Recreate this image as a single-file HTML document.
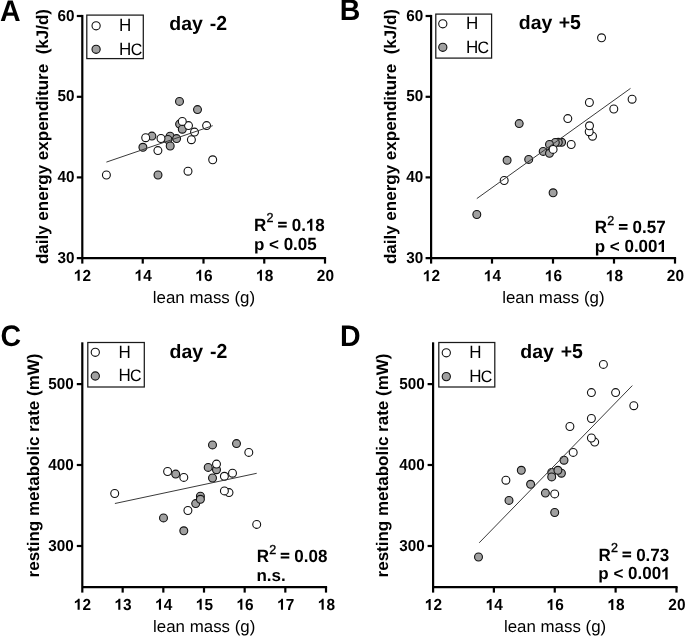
<!DOCTYPE html>
<html><head><meta charset="utf-8"><style>
html,body{margin:0;padding:0;background:#fff;}
svg{display:block;font-family:"Liberation Sans", sans-serif;will-change:transform;font-kerning:none;text-rendering:geometricPrecision;}
</style></head><body>
<svg width="685" height="636" viewBox="0 0 685 636">
<rect width="685" height="636" fill="#fff"/>
<line x1="82.30" y1="14.90" x2="82.30" y2="263.60" stroke="#000" stroke-width="2.2" stroke-linecap="butt"/>
<line x1="76.80" y1="258.10" x2="326.10" y2="258.10" stroke="#000" stroke-width="2.2" stroke-linecap="butt"/>
<line x1="142.75" y1="258.10" x2="142.75" y2="263.60" stroke="#000" stroke-width="2.2" stroke-linecap="butt"/>
<line x1="203.50" y1="258.10" x2="203.50" y2="263.60" stroke="#000" stroke-width="2.2" stroke-linecap="butt"/>
<line x1="264.25" y1="258.10" x2="264.25" y2="263.60" stroke="#000" stroke-width="2.2" stroke-linecap="butt"/>
<line x1="325.00" y1="258.10" x2="325.00" y2="263.60" stroke="#000" stroke-width="2.2" stroke-linecap="butt"/>
<line x1="76.80" y1="16.00" x2="82.30" y2="16.00" stroke="#000" stroke-width="2.2" stroke-linecap="butt"/>
<line x1="76.80" y1="96.80" x2="82.30" y2="96.80" stroke="#000" stroke-width="2.2" stroke-linecap="butt"/>
<line x1="76.80" y1="177.40" x2="82.30" y2="177.40" stroke="#000" stroke-width="2.2" stroke-linecap="butt"/>
<path d="M 79.70 280.80 L 77.59 280.80 L 77.59 272.84 C 77.14 273.28 76.09 274.11 74.87 274.44 L 74.87 272.52 C 75.72 272.23 76.62 271.63 77.22 271.02 C 77.60 270.65 77.86 270.20 77.98 269.78 L 79.70 269.78 Z" fill="#000"/>
<text transform="translate(82.40,280.80) scale(1,1.04)" font-size="15.4" font-weight="bold" fill="#000" xml:space="preserve">2</text>
<path d="M 140.45 280.80 L 138.34 280.80 L 138.34 272.84 C 137.89 273.28 136.84 274.11 135.62 274.44 L 135.62 272.52 C 136.47 272.23 137.37 271.63 137.97 271.02 C 138.35 270.65 138.61 270.20 138.73 269.78 L 140.45 269.78 Z" fill="#000"/>
<text transform="translate(143.15,280.80) scale(1,1.04)" font-size="15.4" font-weight="bold" fill="#000" xml:space="preserve">4</text>
<path d="M 201.20 280.80 L 199.09 280.80 L 199.09 272.84 C 198.64 273.28 197.59 274.11 196.37 274.44 L 196.37 272.52 C 197.22 272.23 198.12 271.63 198.72 271.02 C 199.10 270.65 199.36 270.20 199.48 269.78 L 201.20 269.78 Z" fill="#000"/>
<text transform="translate(203.90,280.80) scale(1,1.04)" font-size="15.4" font-weight="bold" fill="#000" xml:space="preserve">6</text>
<path d="M 261.95 280.80 L 259.84 280.80 L 259.84 272.84 C 259.39 273.28 258.34 274.11 257.12 274.44 L 257.12 272.52 C 257.97 272.23 258.87 271.63 259.47 271.02 C 259.85 270.65 260.11 270.20 260.23 269.78 L 261.95 269.78 Z" fill="#000"/>
<text transform="translate(264.65,280.80) scale(1,1.04)" font-size="15.4" font-weight="bold" fill="#000" xml:space="preserve">8</text>
<text transform="translate(316.84,280.80) scale(1,1.04)" font-size="15.4" font-weight="bold" fill="#000" xml:space="preserve">20</text>
<text transform="translate(57.51,20.60) scale(1,1.04)" font-size="15.3" font-weight="bold" fill="#000" xml:space="preserve">60</text>
<text transform="translate(57.51,101.40) scale(1,1.04)" font-size="15.3" font-weight="bold" fill="#000" xml:space="preserve">50</text>
<text transform="translate(57.51,182.00) scale(1,1.04)" font-size="15.3" font-weight="bold" fill="#000" xml:space="preserve">40</text>
<text transform="translate(57.51,262.60) scale(1,1.04)" font-size="15.3" font-weight="bold" fill="#000" xml:space="preserve">30</text>
<line x1="431.10" y1="14.90" x2="431.10" y2="263.60" stroke="#000" stroke-width="2.2" stroke-linecap="butt"/>
<line x1="425.60" y1="258.10" x2="676.10" y2="258.10" stroke="#000" stroke-width="2.2" stroke-linecap="butt"/>
<line x1="492.00" y1="258.10" x2="492.00" y2="263.60" stroke="#000" stroke-width="2.2" stroke-linecap="butt"/>
<line x1="553.00" y1="258.10" x2="553.00" y2="263.60" stroke="#000" stroke-width="2.2" stroke-linecap="butt"/>
<line x1="614.00" y1="258.10" x2="614.00" y2="263.60" stroke="#000" stroke-width="2.2" stroke-linecap="butt"/>
<line x1="675.00" y1="258.10" x2="675.00" y2="263.60" stroke="#000" stroke-width="2.2" stroke-linecap="butt"/>
<line x1="425.60" y1="16.00" x2="431.10" y2="16.00" stroke="#000" stroke-width="2.2" stroke-linecap="butt"/>
<line x1="425.60" y1="96.80" x2="431.10" y2="96.80" stroke="#000" stroke-width="2.2" stroke-linecap="butt"/>
<line x1="425.60" y1="177.40" x2="431.10" y2="177.40" stroke="#000" stroke-width="2.2" stroke-linecap="butt"/>
<path d="M 428.70 281.20 L 426.59 281.20 L 426.59 273.24 C 426.14 273.68 425.09 274.51 423.87 274.84 L 423.87 272.92 C 424.72 272.63 425.62 272.03 426.22 271.42 C 426.60 271.05 426.86 270.60 426.98 270.18 L 428.70 270.18 Z" fill="#000"/>
<text transform="translate(431.40,281.20) scale(1,1.04)" font-size="15.4" font-weight="bold" fill="#000" xml:space="preserve">2</text>
<path d="M 489.70 281.20 L 487.59 281.20 L 487.59 273.24 C 487.14 273.68 486.09 274.51 484.87 274.84 L 484.87 272.92 C 485.72 272.63 486.62 272.03 487.22 271.42 C 487.60 271.05 487.86 270.60 487.98 270.18 L 489.70 270.18 Z" fill="#000"/>
<text transform="translate(492.40,281.20) scale(1,1.04)" font-size="15.4" font-weight="bold" fill="#000" xml:space="preserve">4</text>
<path d="M 550.70 281.20 L 548.59 281.20 L 548.59 273.24 C 548.14 273.68 547.09 274.51 545.87 274.84 L 545.87 272.92 C 546.72 272.63 547.62 272.03 548.22 271.42 C 548.60 271.05 548.86 270.60 548.98 270.18 L 550.70 270.18 Z" fill="#000"/>
<text transform="translate(553.40,281.20) scale(1,1.04)" font-size="15.4" font-weight="bold" fill="#000" xml:space="preserve">6</text>
<path d="M 611.70 281.20 L 609.59 281.20 L 609.59 273.24 C 609.14 273.68 608.09 274.51 606.87 274.84 L 606.87 272.92 C 607.72 272.63 608.62 272.03 609.22 271.42 C 609.60 271.05 609.86 270.60 609.98 270.18 L 611.70 270.18 Z" fill="#000"/>
<text transform="translate(614.40,281.20) scale(1,1.04)" font-size="15.4" font-weight="bold" fill="#000" xml:space="preserve">8</text>
<text transform="translate(666.84,281.20) scale(1,1.04)" font-size="15.4" font-weight="bold" fill="#000" xml:space="preserve">20</text>
<text transform="translate(406.21,20.60) scale(1,1.04)" font-size="15.3" font-weight="bold" fill="#000" xml:space="preserve">60</text>
<text transform="translate(406.21,101.40) scale(1,1.04)" font-size="15.3" font-weight="bold" fill="#000" xml:space="preserve">50</text>
<text transform="translate(406.21,182.00) scale(1,1.04)" font-size="15.3" font-weight="bold" fill="#000" xml:space="preserve">40</text>
<text transform="translate(406.21,262.60) scale(1,1.04)" font-size="15.3" font-weight="bold" fill="#000" xml:space="preserve">30</text>
<line x1="82.30" y1="342.30" x2="82.30" y2="592.60" stroke="#000" stroke-width="2.2" stroke-linecap="butt"/>
<line x1="82.30" y1="587.10" x2="327.10" y2="587.10" stroke="#000" stroke-width="2.2" stroke-linecap="butt"/>
<line x1="122.67" y1="587.10" x2="122.67" y2="592.60" stroke="#000" stroke-width="2.2" stroke-linecap="butt"/>
<line x1="163.33" y1="587.10" x2="163.33" y2="592.60" stroke="#000" stroke-width="2.2" stroke-linecap="butt"/>
<line x1="204.00" y1="587.10" x2="204.00" y2="592.60" stroke="#000" stroke-width="2.2" stroke-linecap="butt"/>
<line x1="244.67" y1="587.10" x2="244.67" y2="592.60" stroke="#000" stroke-width="2.2" stroke-linecap="butt"/>
<line x1="285.33" y1="587.10" x2="285.33" y2="592.60" stroke="#000" stroke-width="2.2" stroke-linecap="butt"/>
<line x1="326.00" y1="587.10" x2="326.00" y2="592.60" stroke="#000" stroke-width="2.2" stroke-linecap="butt"/>
<line x1="76.80" y1="384.10" x2="82.30" y2="384.10" stroke="#000" stroke-width="2.2" stroke-linecap="butt"/>
<line x1="76.80" y1="465.00" x2="82.30" y2="465.00" stroke="#000" stroke-width="2.2" stroke-linecap="butt"/>
<line x1="76.80" y1="546.00" x2="82.30" y2="546.00" stroke="#000" stroke-width="2.2" stroke-linecap="butt"/>
<path d="M 79.70 609.70 L 77.59 609.70 L 77.59 601.74 C 77.14 602.18 76.09 603.01 74.87 603.34 L 74.87 601.42 C 75.72 601.13 76.62 600.53 77.22 599.92 C 77.60 599.55 77.86 599.10 77.98 598.68 L 79.70 598.68 Z" fill="#000"/>
<text transform="translate(82.40,609.70) scale(1,1.04)" font-size="15.4" font-weight="bold" fill="#000" xml:space="preserve">2</text>
<path d="M 120.37 609.70 L 118.25 609.70 L 118.25 601.74 C 117.81 602.18 116.76 603.01 115.54 603.34 L 115.54 601.42 C 116.38 601.13 117.28 600.53 117.89 599.92 C 118.26 599.55 118.52 599.10 118.65 598.68 L 120.37 598.68 Z" fill="#000"/>
<text transform="translate(123.07,609.70) scale(1,1.04)" font-size="15.4" font-weight="bold" fill="#000" xml:space="preserve">3</text>
<path d="M 161.03 609.70 L 158.92 609.70 L 158.92 601.74 C 158.48 602.18 157.42 603.01 156.21 603.34 L 156.21 601.42 C 157.05 601.13 157.95 600.53 158.55 599.92 C 158.93 599.55 159.19 599.10 159.31 598.68 L 161.03 598.68 Z" fill="#000"/>
<text transform="translate(163.73,609.70) scale(1,1.04)" font-size="15.4" font-weight="bold" fill="#000" xml:space="preserve">4</text>
<path d="M 201.70 609.70 L 199.59 609.70 L 199.59 601.74 C 199.14 602.18 198.09 603.01 196.87 603.34 L 196.87 601.42 C 197.72 601.13 198.62 600.53 199.22 599.92 C 199.60 599.55 199.86 599.10 199.98 598.68 L 201.70 598.68 Z" fill="#000"/>
<text transform="translate(204.40,609.70) scale(1,1.04)" font-size="15.4" font-weight="bold" fill="#000" xml:space="preserve">5</text>
<path d="M 242.37 609.70 L 240.25 609.70 L 240.25 601.74 C 239.81 602.18 238.76 603.01 237.54 603.34 L 237.54 601.42 C 238.38 601.13 239.28 600.53 239.89 599.92 C 240.26 599.55 240.52 599.10 240.65 598.68 L 242.37 598.68 Z" fill="#000"/>
<text transform="translate(245.07,609.70) scale(1,1.04)" font-size="15.4" font-weight="bold" fill="#000" xml:space="preserve">6</text>
<path d="M 283.03 609.70 L 280.92 609.70 L 280.92 601.74 C 280.48 602.18 279.42 603.01 278.21 603.34 L 278.21 601.42 C 279.05 601.13 279.95 600.53 280.55 599.92 C 280.93 599.55 281.19 599.10 281.31 598.68 L 283.03 598.68 Z" fill="#000"/>
<text transform="translate(285.73,609.70) scale(1,1.04)" font-size="15.4" font-weight="bold" fill="#000" xml:space="preserve">7</text>
<path d="M 323.70 609.70 L 321.59 609.70 L 321.59 601.74 C 321.14 602.18 320.09 603.01 318.87 603.34 L 318.87 601.42 C 319.72 601.13 320.62 600.53 321.22 599.92 C 321.60 599.55 321.86 599.10 321.98 598.68 L 323.70 598.68 Z" fill="#000"/>
<text transform="translate(326.40,609.70) scale(1,1.04)" font-size="15.4" font-weight="bold" fill="#000" xml:space="preserve">8</text>
<text transform="translate(48.30,388.70) scale(1,1.04)" font-size="15.3" font-weight="bold" fill="#000" xml:space="preserve">500</text>
<text transform="translate(48.30,469.60) scale(1,1.04)" font-size="15.3" font-weight="bold" fill="#000" xml:space="preserve">400</text>
<text transform="translate(48.30,550.60) scale(1,1.04)" font-size="15.3" font-weight="bold" fill="#000" xml:space="preserve">300</text>
<line x1="433.10" y1="342.30" x2="433.10" y2="592.60" stroke="#000" stroke-width="2.2" stroke-linecap="butt"/>
<line x1="433.10" y1="587.10" x2="677.60" y2="587.10" stroke="#000" stroke-width="2.2" stroke-linecap="butt"/>
<line x1="493.88" y1="587.10" x2="493.88" y2="592.60" stroke="#000" stroke-width="2.2" stroke-linecap="butt"/>
<line x1="554.75" y1="587.10" x2="554.75" y2="592.60" stroke="#000" stroke-width="2.2" stroke-linecap="butt"/>
<line x1="615.62" y1="587.10" x2="615.62" y2="592.60" stroke="#000" stroke-width="2.2" stroke-linecap="butt"/>
<line x1="676.50" y1="587.10" x2="676.50" y2="592.60" stroke="#000" stroke-width="2.2" stroke-linecap="butt"/>
<line x1="427.60" y1="384.10" x2="433.10" y2="384.10" stroke="#000" stroke-width="2.2" stroke-linecap="butt"/>
<line x1="427.60" y1="465.00" x2="433.10" y2="465.00" stroke="#000" stroke-width="2.2" stroke-linecap="butt"/>
<line x1="427.60" y1="546.00" x2="433.10" y2="546.00" stroke="#000" stroke-width="2.2" stroke-linecap="butt"/>
<path d="M 430.70 609.90 L 428.59 609.90 L 428.59 601.94 C 428.14 602.38 427.09 603.21 425.87 603.54 L 425.87 601.62 C 426.72 601.33 427.62 600.73 428.22 600.12 C 428.60 599.75 428.86 599.30 428.98 598.88 L 430.70 598.88 Z" fill="#000"/>
<text transform="translate(433.40,609.90) scale(1,1.04)" font-size="15.4" font-weight="bold" fill="#000" xml:space="preserve">2</text>
<path d="M 491.58 609.90 L 489.46 609.90 L 489.46 601.94 C 489.02 602.38 487.97 603.21 486.75 603.54 L 486.75 601.62 C 487.59 601.33 488.49 600.73 489.09 600.12 C 489.47 599.75 489.73 599.30 489.85 598.88 L 491.58 598.88 Z" fill="#000"/>
<text transform="translate(494.27,609.90) scale(1,1.04)" font-size="15.4" font-weight="bold" fill="#000" xml:space="preserve">4</text>
<path d="M 552.45 609.90 L 550.34 609.90 L 550.34 601.94 C 549.89 602.38 548.84 603.21 547.62 603.54 L 547.62 601.62 C 548.47 601.33 549.37 600.73 549.97 600.12 C 550.35 599.75 550.61 599.30 550.73 598.88 L 552.45 598.88 Z" fill="#000"/>
<text transform="translate(555.15,609.90) scale(1,1.04)" font-size="15.4" font-weight="bold" fill="#000" xml:space="preserve">6</text>
<path d="M 613.33 609.90 L 611.21 609.90 L 611.21 601.94 C 610.77 602.38 609.72 603.21 608.50 603.54 L 608.50 601.62 C 609.34 601.33 610.24 600.73 610.84 600.12 C 611.22 599.75 611.48 599.30 611.60 598.88 L 613.33 598.88 Z" fill="#000"/>
<text transform="translate(616.02,609.90) scale(1,1.04)" font-size="15.4" font-weight="bold" fill="#000" xml:space="preserve">8</text>
<text transform="translate(668.34,609.90) scale(1,1.04)" font-size="15.4" font-weight="bold" fill="#000" xml:space="preserve">20</text>
<text transform="translate(399.30,388.70) scale(1,1.04)" font-size="15.3" font-weight="bold" fill="#000" xml:space="preserve">500</text>
<text transform="translate(399.30,469.60) scale(1,1.04)" font-size="15.3" font-weight="bold" fill="#000" xml:space="preserve">400</text>
<text transform="translate(399.30,550.60) scale(1,1.04)" font-size="15.3" font-weight="bold" fill="#000" xml:space="preserve">300</text>
<text transform="translate(-0.01,20.70) scale(1,1.04)" font-size="28.5" font-weight="bold" fill="#000" xml:space="preserve">A</text>
<text transform="translate(339.69,20.40) scale(1,1.04)" font-size="28.5" font-weight="bold" fill="#000" xml:space="preserve">B</text>
<text transform="translate(0.53,345.80) scale(1,1.04)" font-size="28.5" font-weight="bold" fill="#000" xml:space="preserve">C</text>
<text transform="translate(340.09,346.10) scale(1,1.04)" font-size="28.5" font-weight="bold" fill="#000" xml:space="preserve">D</text>
<text transform="translate(169.30,29.80) scale(1,0.985)" font-size="19.5" font-weight="bold" fill="#000" xml:space="preserve">day</text>
<text transform="translate(209.74,29.80) scale(1,1.0)" font-size="19.5" font-weight="bold" fill="#000" xml:space="preserve">-</text>
<text transform="translate(216.24,29.80) scale(1,1.04)" font-size="19.5" font-weight="bold" fill="#000" xml:space="preserve">2</text>
<text transform="translate(518.80,29.40) scale(1,0.985)" font-size="19.5" font-weight="bold" fill="#000" xml:space="preserve">day</text>
<text transform="translate(558.71,29.40) scale(1,1.0)" font-size="19.5" font-weight="bold" fill="#000" xml:space="preserve">+</text>
<text transform="translate(570.10,29.40) scale(1,1.04)" font-size="19.5" font-weight="bold" fill="#000" xml:space="preserve">5</text>
<text transform="translate(169.50,357.60) scale(1,0.985)" font-size="19.5" font-weight="bold" fill="#000" xml:space="preserve">day</text>
<text transform="translate(209.94,357.60) scale(1,1.0)" font-size="19.5" font-weight="bold" fill="#000" xml:space="preserve">-</text>
<text transform="translate(216.44,357.60) scale(1,1.04)" font-size="19.5" font-weight="bold" fill="#000" xml:space="preserve">2</text>
<text transform="translate(520.30,357.90) scale(1,0.985)" font-size="19.5" font-weight="bold" fill="#000" xml:space="preserve">day</text>
<text transform="translate(560.71,357.90) scale(1,1.0)" font-size="19.5" font-weight="bold" fill="#000" xml:space="preserve">+</text>
<text transform="translate(572.10,357.90) scale(1,1.04)" font-size="19.5" font-weight="bold" fill="#000" xml:space="preserve">5</text>
<text transform="translate(47.60,264.10) rotate(-90) scale(1,0.985)" font-size="17" font-weight="bold" xml:space="preserve">daily energy expenditure  (kJ/d)</text>
<text transform="translate(396.40,264.10) rotate(-90) scale(1,0.985)" font-size="17" font-weight="bold" xml:space="preserve">daily energy expenditure  (kJ/d)</text>
<text transform="translate(39.10,577.42) rotate(-90) scale(1,0.985)" font-size="17" font-weight="bold" xml:space="preserve">resting metabolic rate (mW)</text>
<text transform="translate(388.20,577.42) rotate(-90) scale(1,0.985)" font-size="17" font-weight="bold" xml:space="preserve">resting metabolic rate (mW)</text>
<text transform="translate(152.82,302.80) scale(1,0.985)" font-size="16.9" font-weight="normal" fill="#000" xml:space="preserve">lean mass (g)</text>
<text transform="translate(502.22,303.30) scale(1,0.985)" font-size="16.9" font-weight="normal" fill="#000" xml:space="preserve">lean mass (g)</text>
<text transform="translate(153.07,632.20) scale(1,0.985)" font-size="16.9" font-weight="normal" fill="#000" xml:space="preserve">lean mass (g)</text>
<text transform="translate(503.92,632.20) scale(1,0.985)" font-size="16.9" font-weight="normal" fill="#000" xml:space="preserve">lean mass (g)</text>
<text transform="translate(254.06,230.80) scale(1,1.04)" font-size="17" font-weight="bold" fill="#000" xml:space="preserve">R</text>
<text transform="translate(266.57,222.20) scale(1,1.04)" font-size="12.5" font-weight="normal" fill="#000" stroke="#000" stroke-width="0.35" xml:space="preserve">2</text>
<rect x="278.10" y="221.80" width="8.60" height="2.05" fill="#000"/>
<rect x="278.10" y="225.45" width="8.60" height="2.05" fill="#000"/>
<text transform="translate(291.73,230.80) scale(1,1.04)" font-size="17" font-weight="bold" fill="#000" xml:space="preserve">0.</text>
<path d="M 312.38 230.80 L 310.05 230.80 L 310.05 222.01 C 309.56 222.50 308.40 223.41 307.05 223.78 L 307.05 221.66 C 307.98 221.34 308.98 220.67 309.64 220.01 C 310.06 219.59 310.35 219.10 310.48 218.63 L 312.38 218.63 Z" fill="#000"/>
<text transform="translate(315.36,230.80) scale(1,1.04)" font-size="17" font-weight="bold" fill="#000" xml:space="preserve">8</text>
<text transform="translate(253.88,249.70) scale(1,0.985)" font-size="17" font-weight="bold" fill="#000" xml:space="preserve">p &lt; </text>
<text transform="translate(283.64,249.70) scale(1,1.04)" font-size="17" font-weight="bold" fill="#000" xml:space="preserve">0.05</text>
<text transform="translate(594.86,233.00) scale(1,1.04)" font-size="17" font-weight="bold" fill="#000" xml:space="preserve">R</text>
<text transform="translate(607.37,224.80) scale(1,1.04)" font-size="12.5" font-weight="normal" fill="#000" stroke="#000" stroke-width="0.35" xml:space="preserve">2</text>
<rect x="618.90" y="224.00" width="8.60" height="2.05" fill="#000"/>
<rect x="618.90" y="227.65" width="8.60" height="2.05" fill="#000"/>
<text transform="translate(632.53,233.00) scale(1,1.04)" font-size="17" font-weight="bold" fill="#000" xml:space="preserve">0.57</text>
<text transform="translate(594.68,252.10) scale(1,0.985)" font-size="17" font-weight="bold" fill="#000" xml:space="preserve">p &lt; </text>
<text transform="translate(624.44,252.10) scale(1,1.04)" font-size="17" font-weight="bold" fill="#000" xml:space="preserve">0.00</text>
<path d="M 664.00 252.10 L 661.67 252.10 L 661.67 243.31 C 661.18 243.80 660.01 244.71 658.67 245.08 L 658.67 242.96 C 659.60 242.64 660.60 241.97 661.26 241.31 C 661.67 240.89 661.97 240.40 662.10 239.93 L 664.00 239.93 Z" fill="#000"/>
<text transform="translate(256.66,561.80) scale(1,1.04)" font-size="17" font-weight="bold" fill="#000" xml:space="preserve">R</text>
<text transform="translate(269.17,553.60) scale(1,1.04)" font-size="12.5" font-weight="normal" fill="#000" stroke="#000" stroke-width="0.35" xml:space="preserve">2</text>
<rect x="280.70" y="552.80" width="8.60" height="2.05" fill="#000"/>
<rect x="280.70" y="556.45" width="8.60" height="2.05" fill="#000"/>
<text transform="translate(294.33,561.80) scale(1,1.04)" font-size="17" font-weight="bold" fill="#000" xml:space="preserve">0.08</text>
<text transform="translate(256.48,580.50) scale(1,0.985)" font-size="17" font-weight="bold" fill="#000" xml:space="preserve">n.s.</text>
<text transform="translate(598.46,560.60) scale(1,1.04)" font-size="17" font-weight="bold" fill="#000" xml:space="preserve">R</text>
<text transform="translate(610.97,552.40) scale(1,1.04)" font-size="12.5" font-weight="normal" fill="#000" stroke="#000" stroke-width="0.35" xml:space="preserve">2</text>
<rect x="622.50" y="551.60" width="8.60" height="2.05" fill="#000"/>
<rect x="622.50" y="555.25" width="8.60" height="2.05" fill="#000"/>
<text transform="translate(636.13,560.60) scale(1,1.04)" font-size="17" font-weight="bold" fill="#000" xml:space="preserve">0.73</text>
<text transform="translate(598.28,579.40) scale(1,0.985)" font-size="17" font-weight="bold" fill="#000" xml:space="preserve">p &lt; </text>
<text transform="translate(628.04,579.40) scale(1,1.04)" font-size="17" font-weight="bold" fill="#000" xml:space="preserve">0.00</text>
<path d="M 667.60 579.40 L 665.27 579.40 L 665.27 570.61 C 664.78 571.10 663.61 572.01 662.27 572.38 L 662.27 570.26 C 663.20 569.94 664.20 569.27 664.86 568.61 C 665.27 568.19 665.57 567.70 665.70 567.23 L 667.60 567.23 Z" fill="#000"/>
<rect x="86.8" y="15.1" width="56.50" height="43.50" fill="#fff" stroke="#1a1a1a" stroke-width="1.25"/>
<circle cx="96.1" cy="25.8" r="4.1" fill="#fff" stroke="#111" stroke-width="1.1"/>
<circle cx="96.1" cy="49.3" r="4.1" fill="#a0a0a0" stroke="#111" stroke-width="1.1"/>
<text transform="translate(119.11,31.10) scale(1,1.04)" font-size="17" font-weight="normal" fill="#000" xml:space="preserve">H</text>
<text transform="translate(119.11,54.50) scale(1,1.04)" font-size="17" font-weight="normal" fill="#000" xml:space="preserve">H</text>
<text transform="translate(130.69,54.50) scale(1,1.04)" font-size="16" font-weight="normal" fill="#000" xml:space="preserve">C</text>
<rect x="435.8" y="14.1" width="55.80" height="44.00" fill="#fff" stroke="#1a1a1a" stroke-width="1.25"/>
<circle cx="442.8" cy="23.8" r="4.1" fill="#fff" stroke="#111" stroke-width="1.1"/>
<circle cx="442.8" cy="47.3" r="4.1" fill="#a0a0a0" stroke="#111" stroke-width="1.1"/>
<text transform="translate(465.91,28.90) scale(1,1.04)" font-size="17" font-weight="normal" fill="#000" xml:space="preserve">H</text>
<text transform="translate(465.91,52.80) scale(1,1.04)" font-size="17" font-weight="normal" fill="#000" xml:space="preserve">H</text>
<text transform="translate(477.49,52.80) scale(1,1.04)" font-size="16" font-weight="normal" fill="#000" xml:space="preserve">C</text>
<rect x="87.8" y="342.5" width="56.50" height="44.50" fill="#fff" stroke="#1a1a1a" stroke-width="1.25"/>
<circle cx="95.3" cy="352.3" r="4.1" fill="#fff" stroke="#111" stroke-width="1.1"/>
<circle cx="95.3" cy="376" r="4.1" fill="#a0a0a0" stroke="#111" stroke-width="1.1"/>
<text transform="translate(118.41,357.60) scale(1,1.04)" font-size="17" font-weight="normal" fill="#000" xml:space="preserve">H</text>
<text transform="translate(118.41,381.40) scale(1,1.04)" font-size="17" font-weight="normal" fill="#000" xml:space="preserve">H</text>
<text transform="translate(129.99,381.40) scale(1,1.04)" font-size="16" font-weight="normal" fill="#000" xml:space="preserve">C</text>
<rect x="438.8" y="342.5" width="56.00" height="44.50" fill="#fff" stroke="#1a1a1a" stroke-width="1.25"/>
<circle cx="446.3" cy="352.8" r="4.1" fill="#fff" stroke="#111" stroke-width="1.1"/>
<circle cx="446.3" cy="376.6" r="4.1" fill="#a0a0a0" stroke="#111" stroke-width="1.1"/>
<text transform="translate(469.21,357.90) scale(1,1.04)" font-size="17" font-weight="normal" fill="#000" xml:space="preserve">H</text>
<text transform="translate(469.21,381.70) scale(1,1.04)" font-size="17" font-weight="normal" fill="#000" xml:space="preserve">H</text>
<text transform="translate(480.79,381.70) scale(1,1.04)" font-size="16" font-weight="normal" fill="#000" xml:space="preserve">C</text>
<circle cx="106.4" cy="175.0" r="3.95" fill="#fff" stroke="#111" stroke-width="1.1"/>
<circle cx="158.0" cy="175.0" r="3.95" fill="#a0a0a0" stroke="#111" stroke-width="1.1"/>
<circle cx="188.0" cy="171.2" r="3.95" fill="#fff" stroke="#111" stroke-width="1.1"/>
<circle cx="212.7" cy="159.8" r="3.95" fill="#fff" stroke="#111" stroke-width="1.1"/>
<circle cx="157.9" cy="150.6" r="3.95" fill="#fff" stroke="#111" stroke-width="1.1"/>
<circle cx="142.9" cy="147.3" r="3.95" fill="#a0a0a0" stroke="#111" stroke-width="1.1"/>
<circle cx="151.9" cy="136.1" r="3.95" fill="#a0a0a0" stroke="#111" stroke-width="1.1"/>
<circle cx="145.7" cy="137.7" r="3.95" fill="#fff" stroke="#111" stroke-width="1.1"/>
<circle cx="170.1" cy="136.2" r="3.95" fill="#a0a0a0" stroke="#111" stroke-width="1.1"/>
<circle cx="167.9" cy="139.5" r="3.95" fill="#a0a0a0" stroke="#111" stroke-width="1.1"/>
<circle cx="176.6" cy="138.6" r="3.95" fill="#a0a0a0" stroke="#111" stroke-width="1.1"/>
<circle cx="170.2" cy="146.0" r="3.95" fill="#a0a0a0" stroke="#111" stroke-width="1.1"/>
<circle cx="161.0" cy="138.5" r="3.95" fill="#fff" stroke="#111" stroke-width="1.1"/>
<circle cx="191.4" cy="139.7" r="3.95" fill="#fff" stroke="#111" stroke-width="1.1"/>
<circle cx="194.5" cy="132.1" r="3.95" fill="#fff" stroke="#111" stroke-width="1.1"/>
<circle cx="206.6" cy="125.6" r="3.95" fill="#fff" stroke="#111" stroke-width="1.1"/>
<circle cx="179.5" cy="101.4" r="3.95" fill="#a0a0a0" stroke="#111" stroke-width="1.1"/>
<circle cx="197.5" cy="109.6" r="3.95" fill="#a0a0a0" stroke="#111" stroke-width="1.1"/>
<circle cx="179.6" cy="124.1" r="3.95" fill="#a0a0a0" stroke="#111" stroke-width="1.1"/>
<circle cx="182.3" cy="129.2" r="3.95" fill="#a0a0a0" stroke="#111" stroke-width="1.1"/>
<circle cx="188.5" cy="125.6" r="3.95" fill="#fff" stroke="#111" stroke-width="1.1"/>
<circle cx="182.3" cy="121.4" r="3.95" fill="#fff" stroke="#111" stroke-width="1.1"/>
<circle cx="476.8" cy="214.5" r="3.95" fill="#a0a0a0" stroke="#111" stroke-width="1.1"/>
<circle cx="553.1" cy="192.8" r="3.95" fill="#a0a0a0" stroke="#111" stroke-width="1.1"/>
<circle cx="504.2" cy="180.5" r="3.95" fill="#fff" stroke="#111" stroke-width="1.1"/>
<circle cx="507.1" cy="160.3" r="3.95" fill="#a0a0a0" stroke="#111" stroke-width="1.1"/>
<circle cx="528.7" cy="159.4" r="3.95" fill="#a0a0a0" stroke="#111" stroke-width="1.1"/>
<circle cx="519.2" cy="123.6" r="3.95" fill="#a0a0a0" stroke="#111" stroke-width="1.1"/>
<circle cx="561.6" cy="142.3" r="3.95" fill="#a0a0a0" stroke="#111" stroke-width="1.1"/>
<circle cx="558.3" cy="142.3" r="3.95" fill="#a0a0a0" stroke="#111" stroke-width="1.1"/>
<circle cx="555.3" cy="142.5" r="3.95" fill="#a0a0a0" stroke="#111" stroke-width="1.1"/>
<circle cx="549.5" cy="144.4" r="3.95" fill="#a0a0a0" stroke="#111" stroke-width="1.1"/>
<circle cx="543.2" cy="151.4" r="3.95" fill="#a0a0a0" stroke="#111" stroke-width="1.1"/>
<circle cx="549.5" cy="153.3" r="3.95" fill="#a0a0a0" stroke="#111" stroke-width="1.1"/>
<circle cx="553.1" cy="149.4" r="3.95" fill="#fff" stroke="#111" stroke-width="1.1"/>
<circle cx="571.2" cy="144.5" r="3.95" fill="#fff" stroke="#111" stroke-width="1.1"/>
<circle cx="567.8" cy="118.6" r="3.95" fill="#fff" stroke="#111" stroke-width="1.1"/>
<circle cx="589.4" cy="102.5" r="3.95" fill="#fff" stroke="#111" stroke-width="1.1"/>
<circle cx="601.55" cy="37.8" r="3.95" fill="#fff" stroke="#111" stroke-width="1.1"/>
<circle cx="632.1" cy="99.2" r="3.95" fill="#fff" stroke="#111" stroke-width="1.1"/>
<circle cx="613.8" cy="109.0" r="3.95" fill="#fff" stroke="#111" stroke-width="1.1"/>
<circle cx="592.5" cy="136.2" r="3.95" fill="#fff" stroke="#111" stroke-width="1.1"/>
<circle cx="589.2" cy="131.7" r="3.95" fill="#fff" stroke="#111" stroke-width="1.1"/>
<circle cx="589.5" cy="125.8" r="3.95" fill="#fff" stroke="#111" stroke-width="1.1"/>
<circle cx="114.7" cy="493.5" r="3.95" fill="#fff" stroke="#111" stroke-width="1.1"/>
<circle cx="167.6" cy="471.5" r="3.95" fill="#fff" stroke="#111" stroke-width="1.1"/>
<circle cx="175.7" cy="474.1" r="3.95" fill="#a0a0a0" stroke="#111" stroke-width="1.1"/>
<circle cx="183.8" cy="477.4" r="3.95" fill="#fff" stroke="#111" stroke-width="1.1"/>
<circle cx="163.5" cy="517.9" r="3.95" fill="#a0a0a0" stroke="#111" stroke-width="1.1"/>
<circle cx="183.8" cy="530.8" r="3.95" fill="#a0a0a0" stroke="#111" stroke-width="1.1"/>
<circle cx="187.9" cy="510.5" r="3.95" fill="#fff" stroke="#111" stroke-width="1.1"/>
<circle cx="195.7" cy="503.6" r="3.95" fill="#a0a0a0" stroke="#111" stroke-width="1.1"/>
<circle cx="200.4" cy="496.2" r="3.95" fill="#a0a0a0" stroke="#111" stroke-width="1.1"/>
<circle cx="200.4" cy="499.3" r="3.95" fill="#a0a0a0" stroke="#111" stroke-width="1.1"/>
<circle cx="212.5" cy="444.9" r="3.95" fill="#a0a0a0" stroke="#111" stroke-width="1.1"/>
<circle cx="236.5" cy="443.6" r="3.95" fill="#a0a0a0" stroke="#111" stroke-width="1.1"/>
<circle cx="248.8" cy="452.4" r="3.95" fill="#fff" stroke="#111" stroke-width="1.1"/>
<circle cx="208.2" cy="467.4" r="3.95" fill="#a0a0a0" stroke="#111" stroke-width="1.1"/>
<circle cx="216.5" cy="469.7" r="3.95" fill="#a0a0a0" stroke="#111" stroke-width="1.1"/>
<circle cx="216.5" cy="464.1" r="3.95" fill="#fff" stroke="#111" stroke-width="1.1"/>
<circle cx="212.5" cy="478.0" r="3.95" fill="#a0a0a0" stroke="#111" stroke-width="1.1"/>
<circle cx="224.4" cy="476.3" r="3.95" fill="#fff" stroke="#111" stroke-width="1.1"/>
<circle cx="232.5" cy="473.2" r="3.95" fill="#fff" stroke="#111" stroke-width="1.1"/>
<circle cx="229.0" cy="492.6" r="3.95" fill="#fff" stroke="#111" stroke-width="1.1"/>
<circle cx="224.4" cy="490.9" r="3.95" fill="#fff" stroke="#111" stroke-width="1.1"/>
<circle cx="256.7" cy="524.4" r="3.95" fill="#fff" stroke="#111" stroke-width="1.1"/>
<circle cx="478.5" cy="557.0" r="3.95" fill="#a0a0a0" stroke="#111" stroke-width="1.1"/>
<circle cx="509.0" cy="500.4" r="3.95" fill="#a0a0a0" stroke="#111" stroke-width="1.1"/>
<circle cx="505.9" cy="480.2" r="3.95" fill="#fff" stroke="#111" stroke-width="1.1"/>
<circle cx="521.3" cy="470.3" r="3.95" fill="#a0a0a0" stroke="#111" stroke-width="1.1"/>
<circle cx="530.6" cy="484.3" r="3.95" fill="#a0a0a0" stroke="#111" stroke-width="1.1"/>
<circle cx="545.4" cy="493.1" r="3.95" fill="#a0a0a0" stroke="#111" stroke-width="1.1"/>
<circle cx="554.7" cy="493.9" r="3.95" fill="#fff" stroke="#111" stroke-width="1.1"/>
<circle cx="554.7" cy="512.5" r="3.95" fill="#a0a0a0" stroke="#111" stroke-width="1.1"/>
<circle cx="551.7" cy="472.5" r="3.95" fill="#a0a0a0" stroke="#111" stroke-width="1.1"/>
<circle cx="561.4" cy="473.2" r="3.95" fill="#a0a0a0" stroke="#111" stroke-width="1.1"/>
<circle cx="557.9" cy="470.3" r="3.95" fill="#a0a0a0" stroke="#111" stroke-width="1.1"/>
<circle cx="551.7" cy="476.9" r="3.95" fill="#a0a0a0" stroke="#111" stroke-width="1.1"/>
<circle cx="564.0" cy="460.2" r="3.95" fill="#a0a0a0" stroke="#111" stroke-width="1.1"/>
<circle cx="573.2" cy="452.4" r="3.95" fill="#fff" stroke="#111" stroke-width="1.1"/>
<circle cx="569.9" cy="426.5" r="3.95" fill="#fff" stroke="#111" stroke-width="1.1"/>
<circle cx="594.7" cy="442.1" r="3.95" fill="#fff" stroke="#111" stroke-width="1.1"/>
<circle cx="591.4" cy="438.0" r="3.95" fill="#fff" stroke="#111" stroke-width="1.1"/>
<circle cx="591.4" cy="418.5" r="3.95" fill="#fff" stroke="#111" stroke-width="1.1"/>
<circle cx="591.4" cy="392.6" r="3.95" fill="#fff" stroke="#111" stroke-width="1.1"/>
<circle cx="615.6" cy="392.6" r="3.95" fill="#fff" stroke="#111" stroke-width="1.1"/>
<circle cx="633.8" cy="405.7" r="3.95" fill="#fff" stroke="#111" stroke-width="1.1"/>
<circle cx="603.4" cy="364.4" r="3.95" fill="#fff" stroke="#111" stroke-width="1.1"/>
<line x1="106.40" y1="162.10" x2="212.70" y2="125.70" stroke="#3a3a3a" stroke-width="1.0" stroke-linecap="butt"/>
<line x1="476.80" y1="198.60" x2="630.50" y2="88.40" stroke="#3a3a3a" stroke-width="1.0" stroke-linecap="butt"/>
<line x1="114.90" y1="503.50" x2="256.70" y2="473.30" stroke="#3a3a3a" stroke-width="1.0" stroke-linecap="butt"/>
<line x1="479.20" y1="542.80" x2="632.30" y2="385.60" stroke="#3a3a3a" stroke-width="1.0" stroke-linecap="butt"/>
</svg>
</body></html>
